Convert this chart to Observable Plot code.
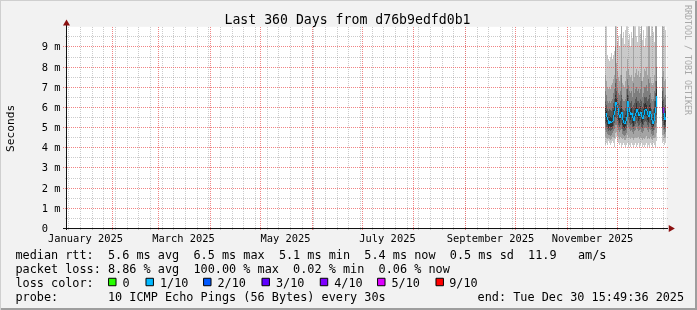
<!DOCTYPE html>
<html><head><meta charset="utf-8">
<script src="https://cdn.jsdelivr.net/npm/d3@7"></script>
<script src="https://cdn.jsdelivr.net/npm/@observablehq/plot@0.6"></script>
<style>
html,body{margin:0;padding:0;background:#f2f2f2;}
#chart{width:697px;height:310px;background:#f2f2f2;box-shadow:inset 1px 1px 0 #cfcfcf, inset -2px -2px 0 #9e9e9e;overflow:hidden;}
#chart svg{display:block;background:transparent;will-change:transform;}
#chart svg text{white-space:pre;}
</style></head>
<body><div id="chart"></div>
<script>
// ---------- data ----------
const titleText = "Last 360 Days from d76b9edfd0b1";
const yAxisTitle = "Seconds";
const watermark = "RRDTOOL / TOBI OETIKER";
const endTime = "2025-12-30T15:49:36Z";
const spanDays = 360;

const yTicks = [0, 1, 2, 3, 4, 5, 6, 7, 8, 9];
const yTickLabels = ["0", "1 m", "2 m", "3 m", "4 m", "5 m", "6 m", "7 m", "8 m", "9 m"];
const monthLabelDates = ["2025-01-16", "2025-03-16", "2025-05-16", "2025-07-16", "2025-09-16", "2025-11-16"];
const monthLabels = ["January 2025", "March 2025", "May 2025", "July 2025", "September 2025", "November 2025"];

const columnTimes = [
 "2025-11-24T01:25Z","2025-11-24T15:49Z","2025-11-25T06:13Z","2025-11-25T20:37Z","2025-11-26T11:01Z",
 "2025-11-27T01:25Z","2025-11-27T15:49Z","2025-11-28T06:13Z","2025-11-28T20:37Z","2025-11-29T11:01Z",
 "2025-11-30T01:25Z","2025-11-30T15:49Z","2025-12-01T06:13Z","2025-12-01T20:37Z","2025-12-02T11:01Z",
 "2025-12-03T01:25Z","2025-12-03T15:49Z","2025-12-04T06:13Z","2025-12-04T20:37Z","2025-12-05T11:01Z",
 "2025-12-06T01:25Z","2025-12-06T15:49Z","2025-12-07T06:13Z","2025-12-07T20:37Z","2025-12-08T11:01Z",
 "2025-12-09T01:25Z","2025-12-09T15:49Z","2025-12-10T06:13Z","2025-12-10T20:37Z","2025-12-11T11:01Z",
 "2025-12-12T01:25Z","2025-12-12T15:49Z","2025-12-13T06:13Z","2025-12-13T20:37Z","2025-12-14T11:01Z",
 "2025-12-15T01:25Z","2025-12-15T15:49Z","2025-12-16T06:13Z","2025-12-16T20:37Z","2025-12-17T11:01Z",
 "2025-12-18T01:25Z","2025-12-18T15:49Z","2025-12-19T06:13Z","2025-12-19T20:37Z","2025-12-20T11:01Z",
 "2025-12-21T01:25Z","2025-12-21T15:49Z","2025-12-22T06:13Z","2025-12-22T20:37Z","2025-12-23T11:01Z",
 "2025-12-24T01:25Z","2025-12-24T15:49Z","2025-12-25T06:13Z","2025-12-25T20:37Z","2025-12-26T11:01Z",
 "2025-12-27T01:25Z","2025-12-27T15:49Z","2025-12-28T06:13Z","2025-12-28T20:37Z","2025-12-29T11:01Z",
 "2025-12-30T01:25Z"
];
const N = null;
// median rtt (ms) per column
const medianRtt = [5.7,5.5,5.35,5.15,5.3,5.2,5.25,5.3,5.6,5.8, 6.25,6.1,5.95,5.6,5.45,5.65,5.75,5.35,5.2,5.15,
 5.3,5.5,6.3,6.0,5.75,5.6,5.7,5.45,5.3,5.55, 5.7,5.9,5.75,5.55,5.65,5.75,5.5,5.4,5.6,5.85,
 5.9,5.8,5.6,5.5,5.8,5.65,5.35,5.15,5.3,5.7, 6.0,6.55, N,N,N,N,N, 6.0,5.7,5.35,5.5];
// lost pings out of 10 per column
const lossCount = [1,1,1,1,1,1,1,1,1,1, 1,1,1,1,1,1,1,1,1,1, 1,1,1,1,1,1,1,1,1,1, 1,1,1,1,1,1,1,1,1,1,
 1,1,1,1,1,1,1,1,1,1, 1,1, N,N,N,N,N, 4,1,1,1];
// sorted ping rtts (ms): ping1 = fastest ... ping10 = slowest
const ping1 = [4.1,4.2,4.1,4.3,4.2,4.1,4.2,4.3,4.2,4.0, 4.4,4.5,4.3,4.2,4.1,4.2,4.0,4.1,4.2,4.1,
 4.0,4.1,4.2,4.0,4.1,4.0,4.2,4.1,4.0,4.1, 4.2,4.0,4.1,4.2,4.0,4.1,4.2,4.0,4.1,4.0,
 4.1,4.2,4.0,4.1,4.0,4.2,4.1,4.0,4.2,4.1, 4.0,4.3, N,N,N,N,N, 4.2,4.3,4.1,4.2];
const ping2 = [4.5,4.45,4.4,4.45,4.4,4.35,4.4,4.5,4.5,4.45, 4.7,4.75,4.6,4.5,4.4,4.5,4.45,4.4,4.45,4.35,
 4.35,4.45,4.6,4.45,4.5,4.4,4.5,4.45,4.35,4.45, 4.5,4.45,4.5,4.5,4.4,4.5,4.45,4.35,4.45,4.4,
 4.5,4.55,4.4,4.45,4.4,4.5,4.4,4.35,4.45,4.45, 4.5,4.7, N,N,N,N,N, 4.6,4.6,4.45,4.5];
const ping3 = [4.85,4.75,4.65,4.6,4.6,4.55,4.6,4.7,4.8,4.9, 5.1,5.1,5.0,4.85,4.75,4.85,4.9,4.65,4.6,4.55,
 4.6,4.7,5.1,5.0,4.9,4.8,4.85,4.75,4.65,4.8, 4.85,5.0,4.9,4.8,4.85,4.9,4.75,4.7,4.8,4.95,
 5.0,4.95,4.85,4.75,4.9,4.85,4.65,4.55,4.6,4.85, 5.0,5.2, N,N,N,N,N, 5.0,4.85,4.65,4.75];
const ping4 = [5.15,5.0,4.9,4.8,4.85,4.8,4.85,4.9,5.05,5.2, 5.5,5.45,5.3,5.1,5.0,5.1,5.2,4.9,4.8,4.8,
 4.85,4.95,5.5,5.35,5.2,5.1,5.15,5.0,4.9,5.05, 5.15,5.3,5.2,5.05,5.1,5.2,5.0,4.95,5.1,5.25,
 5.3,5.25,5.1,5.0,5.2,5.15,4.9,4.8,4.85,5.15, 5.35,5.6, N,N,N,N,N, 5.3,5.1,4.9,5.0];
const ping5 = [5.45,5.25,5.1,4.95,5.05,5.0,5.0,5.05,5.3,5.5, 5.9,5.8,5.65,5.35,5.2,5.4,5.45,5.1,4.95,4.95,
 5.05,5.2,5.95,5.7,5.5,5.35,5.45,5.2,5.05,5.3, 5.45,5.6,5.5,5.3,5.4,5.5,5.25,5.15,5.35,5.55,
 5.6,5.55,5.35,5.25,5.5,5.4,5.1,4.95,5.05,5.45, 5.7,6.1, N,N,N,N,N, 5.7,5.4,5.1,5.25];
const ping6 = [5.95,5.8,5.6,5.45,5.55,5.5,5.5,5.6,5.85,6.05, 6.6,6.4,6.2,5.9,5.75,5.9,6.05,5.6,5.5,5.45,
 5.6,5.8,6.6,6.3,6.0,5.9,5.95,5.7,5.6,5.85, 6.0,6.2,6.0,5.85,5.9,6.05,5.8,5.7,5.9,6.15,
 6.2,6.1,5.9,5.8,6.1,5.95,5.6,5.45,5.6,5.95, 6.3,6.9, N,N,N,N,N, 6.3,6.0,5.65,5.8];
const ping7 = [6.3,6.1,5.9,5.8,5.9,5.85,5.8,5.95,6.2,6.4, 7.2,6.8,6.5,6.2,6.1,6.3,6.6,5.9,5.85,5.8,
 5.95,6.3,6.9,6.6,6.3,6.2,6.3,6.0,6.1,6.2, 6.4,6.5,6.3,6.3,6.2,6.4,6.3,6.0,6.2,6.5,
 6.5,6.5,6.3,6.4,6.6,6.2,5.9,5.8,5.9,6.3, 6.7,7.3, N,N,N,N,N, 6.8,6.4,6.0,6.1];
const ping8 = [6.8,6.6,6.3,6.2,6.3,6.2,6.3,6.4,6.7,6.9, 9.0,7.4,7.0,6.7,6.6,6.8,7.6,6.4,6.3,6.3,
 6.4,6.9,7.4,7.1,6.8,6.7,6.8,6.5,7.2,6.7, 6.9,7.0,6.8,6.9,6.7,6.9,7.3,6.5,6.7,7.0,
 7.0,7.1,6.8,7.4,7.2,6.7,6.4,6.3,6.4,6.8, 7.3,8.0, N,N,N,N,N, 7.5,7.0,6.5,6.6];
const ping9 = [7.6,7.3,7.0,6.9,7.0,6.9,7.1,7.2,7.4,7.6, 12,8.2,7.8,7.5,7.3,7.6,12,7.2,7.1,7.0,
 7.3,7.8,8.4,7.9,7.6,7.5,7.6,7.3,12,7.5, 7.7,7.9,7.6,7.8,7.5,7.7,12,7.3,7.5,7.9,
 7.8,8.0,7.6,12,12,7.5,7.2,7.1,7.2,7.6, 12,12, N,N,N,N,N, 12,7.8,7.3,7.4];
const ping10 = [12,12,8.6,8.4,8.3,8.5,8.7,8.4,8.6,8.8, 12,12,9.2,9.5,9.0,9.6,12,9.4,9.7,9.1,
 9.8,12,12,9.3,9.6,9.0,9.7,9.4,12,12, 12,9.5,9.2,12,12,9.6,12,9.3,9.8,9.0,
 9.4,12,12,12,12,9.5,12,12,9.7,9.2, 12,12, N,N,N,N,N, 12,12,10.5,9.8];

const medianStats = ["5.6 ms avg", "6.5 ms max", "5.1 ms min", "5.4 ms now", "0.5 ms sd", "11.9   am/s"];
const lossStats = ["8.86 % avg", "100.00 % max", "0.02 % min", "0.06 % now"];
const lossLegendLabels = ["0", "1/10", "2/10", "3/10", "4/10", "5/10", "9/10"];
const lossLegendCounts = [0, 1, 2, 3, 4, 5, 9];
const lossColors = {0: "#26ff00", 1: "#00b8ff", 2: "#0059ff", 3: "#5e00ff", 4: "#7e00ff", 5: "#dd00ff", 9: "#ff0000"};
const probeText = "10 ICMP Echo Pings (56 Bytes) every 30s";
const endText = "end: Tue Dec 30 15:49:36 2025";

// ---------- layout ----------
const W = 697, H = 310, ML = 66, MR = 31, MT = 26.3, MB = 82;
const mono = "DejaVu Sans Mono";
const endDate = new Date(endTime);
const startDate = new Date(+endDate - spanDays * 864e5);
const pxMs = (endDate - startDate) / (W - ML - MR);  // time per pixel column (= RRD step)
const pxY = (H - MT - MB) / 10;

const rows = columnTimes.map((s, i) => {
  const t = new Date(s);
  return {
    t, t2: new Date(+t + pxMs),
    p: [ping1[i], ping2[i], ping3[i], ping4[i], ping5[i], ping6[i], ping7[i], ping8[i], ping9[i], ping10[i]],
    median: medianRtt[i], loss: lossCount[i]
  };
});
const valid = rows.filter(d => d.p[0] != null);
const smokeShades = ["#cacaca", "#a4a4a4", "#7e7e7e", "#585858", "#323232"];

const smokeMarks = smokeShades.map((fill, k) =>
  Plot.rect(valid, {x1: "t", x2: "t2", y1: d => d.p[k], y2: d => d.p[9 - k], fill, clip: true, shapeRendering: "crispEdges"})
);

// median line drawn rrdtool-style: one segment joining each column to the next
const medianSegs = rows.slice(1).map((d, i) => ({x: d.t, from: rows[i].median, to: d.median, loss: rows[i].loss}))
  .filter(s => s.from != null && s.to != null);

const weeks = d3.utcMonday.range(startDate, endDate);
const months = d3.utcMonth.range(startDate, endDate);
const minorY = d3.range(0.5, 10, 1);
const majorY = yTicks.filter(v => v > 0);
const gridGray = "rgba(130,130,130,0.42)";
const gridRed = "rgba(235,80,80,0.7)";
const dots = {strokeDasharray: "1,1"};

function at(text, x, y, o = {}) {
  return Plot.text([text], {text: d => d, frameAnchor: "top-left", dx: x - ML - 0.5, dy: y - MT - 0.5,
    lineAnchor: "bottom", textAnchor: "start", fontFamily: mono, fontSize: 11.84, fill: "#000", ...o});
}
function box(color, x, y) {
  return Plot.dot([0], {frameAnchor: "top-left", dx: x - ML - 0.5, dy: y - MT - 0.5, symbol: "square", r: 4.2,
    fill: color, stroke: "#000", strokeWidth: 1});
}

const boxX = [108.3, 145.7, 203.3, 261.7, 320, 377.3, 435.7];
const labX = [122.5, 159.9, 217.5, 275.9, 334.2, 391.5, 449.2];

const marks = [
  Plot.frame({fill: "#ffffff", stroke: "none"}),
  ...smokeMarks,
  Plot.ruleX(medianSegs, {x: "x", y1: "from", y2: "to", stroke: d => lossColors[d.loss], strokeWidth: 1.3, clip: true}),
  // grid
  Plot.ruleY(minorY, {x1: () => new Date(+startDate - 1 * pxMs), x2: () => new Date(+endDate + 2 * pxMs),
    stroke: gridGray, ...dots}),
  Plot.ruleX(weeks, {y1: -2 / pxY, y2: 10, stroke: gridGray, ...dots}),
  Plot.ruleY(majorY, {x1: () => new Date(+startDate - 3 * pxMs), x2: () => new Date(+endDate + 2 * pxMs),
    stroke: gridRed, ...dots}),
  Plot.ruleX(months, {y1: -2 / pxY, y2: 10, stroke: gridRed, ...dots}),
  // axes
  Plot.ruleY([0], {x1: () => new Date(+startDate - 3 * pxMs), x2: () => new Date(+endDate + 2 * pxMs), stroke: "#111"}),
  Plot.ruleX([startDate], {y1: -2 / pxY, y2: 10 + 1 / pxY, stroke: "#111"}),
  Plot.dot([0], {frameAnchor: "top-left", dx: 0, dy: -3.2, symbol: "triangle", r: 2.6, fill: "#8b1010", stroke: "none"}),
  Plot.dot([0], {frameAnchor: "bottom-right", dx: 4.3, dy: 0, symbol: "triangle", r: 2.6, rotate: 90, fill: "#8b1010", stroke: "none"}),
  // tick labels
  Plot.text(monthLabelDates, {x: d => new Date(d + "T00:00Z"), text: (d, i) => monthLabels[i], frameAnchor: "bottom",
    lineAnchor: "bottom", dy: 13.3, textAnchor: "middle", fontFamily: mono, fontSize: 10.4, fill: "#000"}),
  Plot.text(yTicks, {y: d => d, text: (d, i) => yTickLabels[i], frameAnchor: "left", dx: 41.7 - ML - 0.5, dy: 3.5,
    lineAnchor: "bottom", textAnchor: "start", fontFamily: mono, fontSize: 10.4, fill: "#000"}),
  // titles
  at(titleText, 347.5, 23.5, {textAnchor: "middle", fontSize: 13.2}),
  at(yAxisTitle, 14, 128.3, {textAnchor: "middle", rotate: -90, fontSize: 11.2}),
  at(watermark, 684.5, 5, {rotate: 90, fontSize: 8.3, fill: "#a8a8a8"}),
  // legend
  at("median rtt:  " + medianStats.join("  "), 15.4, 258.5),
  at("packet loss: " + lossStats.join("  "), 15.4, 272.5),
  at("loss color:", 15.4, 286.5),
  ...lossLegendCounts.map((c, i) => box(lossColors[c], boxX[i] + 4, 282)),
  ...lossLegendLabels.map((l, i) => at(l, labX[i], 286.5)),
  at("probe:       " + probeText, 15.4, 300.5),
  at(endText, 477.6, 300.5)
];

const chart = Plot.plot({
  width: W, height: H,
  marginLeft: ML, marginRight: MR, marginTop: MT, marginBottom: MB,
  x: {type: "utc", domain: [startDate, endDate], axis: null, round: true},
  y: {domain: [0, 10], axis: null, round: true},
  style: {background: "transparent", fontFamily: mono},
  marks
});
document.getElementById("chart").appendChild(chart);
</script>
</body></html>
